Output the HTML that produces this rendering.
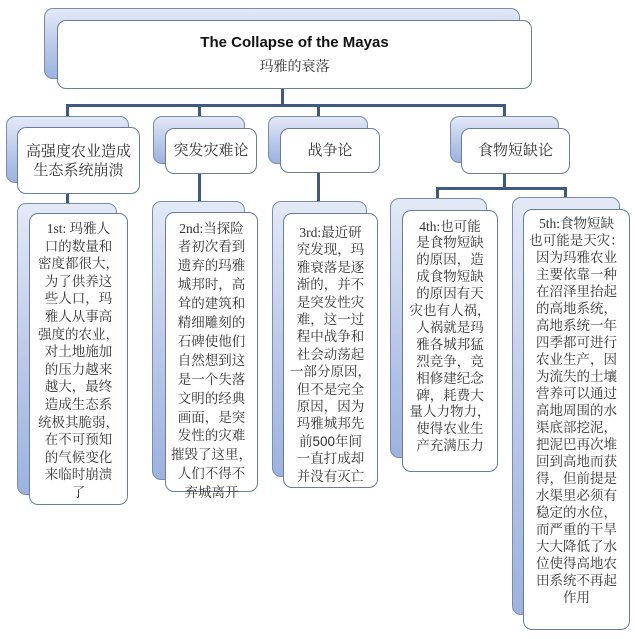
<!DOCTYPE html>
<html><head><meta charset="utf-8"><style>
html,body{margin:0;padding:0;background:#fff;width:635px;height:639px;overflow:hidden;position:relative}
.b{position:absolute;border:1px solid #7a8cab;border-radius:9px;box-sizing:border-box;background:linear-gradient(180deg,#e3e9f6 0%,#b9c8ea 55%,#9cb2e0 100%)}
.f{position:absolute;border:1.5px solid #6a7d9c;border-radius:9px;box-sizing:border-box;background:#fff}
.t{position:absolute;text-align:center;color:#333;font-family:"Liberation Serif","Noto Serif CJK SC",serif;font-size:13.5px;white-space:nowrap}
.h{position:absolute;text-align:center;color:#333;font-family:"Liberation Serif","Noto Serif CJK SC",serif;font-size:15px;white-space:nowrap}
.l{position:absolute;background:#3f5a82}
</style></head><body>
<div class="l" style="left:281px;top:85px;width:3px;height:22px"></div>
<div class="l" style="left:66px;top:104px;width:440px;height:3px"></div>
<div class="l" style="left:66px;top:104px;width:3px;height:26px"></div>
<div class="l" style="left:198px;top:104px;width:3px;height:26px"></div>
<div class="l" style="left:317px;top:104px;width:3px;height:26px"></div>
<div class="l" style="left:503px;top:104px;width:3px;height:26px"></div>
<div class="l" style="left:66px;top:190px;width:3px;height:16px"></div>
<div class="l" style="left:198px;top:170px;width:3px;height:34px"></div>
<div class="l" style="left:317px;top:170px;width:3px;height:34px"></div>
<div class="l" style="left:503px;top:170px;width:3px;height:19px"></div>
<div class="l" style="left:436px;top:187px;width:131px;height:3px"></div>
<div class="l" style="left:436px;top:187px;width:3px;height:14px"></div>
<div class="l" style="left:564px;top:187px;width:3px;height:14px"></div>

<!-- top -->
<div class="b" style="left:44px;top:8px;width:476px;height:71px"></div>
<div class="f" style="left:57px;top:20px;width:475px;height:69px"></div>
<div style="position:absolute;left:57px;top:34px;width:475px;text-align:center;font-family:'Liberation Sans',sans-serif;font-weight:bold;font-size:15px;color:#111">The Collapse of the Mayas</div>
<div class="h" style="left:57px;top:56px;width:475px;font-size:14px">玛雅的衰落</div>

<!-- level 2 -->
<div class="b" style="left:6px;top:116px;width:123px;height:67px"></div>
<div class="f" style="left:17px;top:127px;width:123px;height:67px"></div>
<div class="h" style="left:17px;top:143px;width:123px;line-height:19px">高强度农业造成<br>生态系统崩溃</div>

<div class="b" style="left:153px;top:116px;width:92px;height:48px"></div>
<div class="f" style="left:165px;top:128px;width:92px;height:46px"></div>
<div class="h" style="left:165px;top:141px;width:92px;line-height:20px">突发灾难论</div>

<div class="b" style="left:268px;top:116px;width:100px;height:48px"></div>
<div class="f" style="left:280px;top:128px;width:100px;height:45px"></div>
<div class="h" style="left:280px;top:141px;width:100px;line-height:20px">战争论</div>

<div class="b" style="left:450px;top:116px;width:109px;height:47px"></div>
<div class="f" style="left:461px;top:128px;width:109px;height:46px"></div>
<div class="h" style="left:461px;top:141px;width:109px;line-height:20px">食物短缺论</div>

<!-- level 3 -->
<div class="b" style="left:17px;top:203px;width:100px;height:292px"></div>
<div class="f" style="left:29px;top:213px;width:99px;height:292px"></div>
<div class="t" style="left:29px;top:220px;width:99px;line-height:17.6px">1st: 玛雅人<br>口的数量和<br>密度都很大，<br>为了供养这<br>些人口，玛<br>雅人从事高<br>强度的农业，<br>对土地施加<br>的压力越来<br>越大，最终<br>造成生态系<br>统极其脆弱，<br>在不可预知<br>的气候变化<br>来临时崩溃<br>了</div>

<div class="b" style="left:152px;top:201px;width:93px;height:279px"></div>
<div class="f" style="left:165px;top:212px;width:93px;height:280px"></div>
<div class="t" style="left:165px;top:219.5px;width:93px;line-height:18.9px">2nd:当探险<br>者初次看到<br>遗弃的玛雅<br>城邦时，高<br>耸的建筑和<br>精细雕刻的<br>石碑使他们<br>自然想到这<br>是一个失落<br>文明的经典<br>画面，是突<br>发性的灾难<br>摧毁了这里，<br>人们不得不<br>弃城离开</div>

<div class="b" style="left:272px;top:201px;width:95px;height:276px"></div>
<div class="f" style="left:283px;top:213px;width:95px;height:275px"></div>
<div class="t" style="left:283px;top:224px;width:95px;line-height:17.4px">3rd:最近研<br>究发现，玛<br>雅衰落是逐<br>渐的，并不<br>是突发性灾<br>难，这一过<br>程中战争和<br>社会动荡起<br>一部分原因，<br>但不是完全<br>原因，因为<br>玛雅城邦先<br>前<span style="font-family:'Liberation Sans',sans-serif">500</span>年间<br>一直打成却<br>并没有灭亡</div>

<div class="b" style="left:390px;top:198px;width:97px;height:260px"></div>
<div class="f" style="left:402px;top:210px;width:96px;height:262px"></div>
<div class="t" style="left:402px;top:218.5px;width:96px;line-height:16.9px">4th:也可能<br>是食物短缺<br>的原因，造<br>成食物短缺<br>的原因有天<br>灾也有人祸，<br>人祸就是玛<br>雅各城邦猛<br>烈竞争，竞<br>相修建纪念<br>碑，耗费大<br>量人力物力，<br>使得农业生<br>产充满压力</div>

<div class="b" style="left:512px;top:197px;width:108px;height:418px"></div>
<div class="f" style="left:523px;top:209px;width:107px;height:421px"></div>
<div class="t" style="left:523px;top:214.5px;width:107px;line-height:17px">5th:食物短缺<br>也可能是天灾：<br>因为玛雅农业<br>主要依靠一种<br>在沼泽里抬起<br>的高地系统，<br>高地系统一年<br>四季都可进行<br>农业生产，因<br>为流失的土壤<br>营养可以通过<br>高地周围的水<br>渠底部挖泥，<br>把泥巴再次堆<br>回到高地而获<br>得，但前提是<br>水渠里必须有<br>稳定的水位，<br>而严重的干旱<br>大大降低了水<br>位使得高地农<br>田系统不再起<br>作用</div>
</body></html>
